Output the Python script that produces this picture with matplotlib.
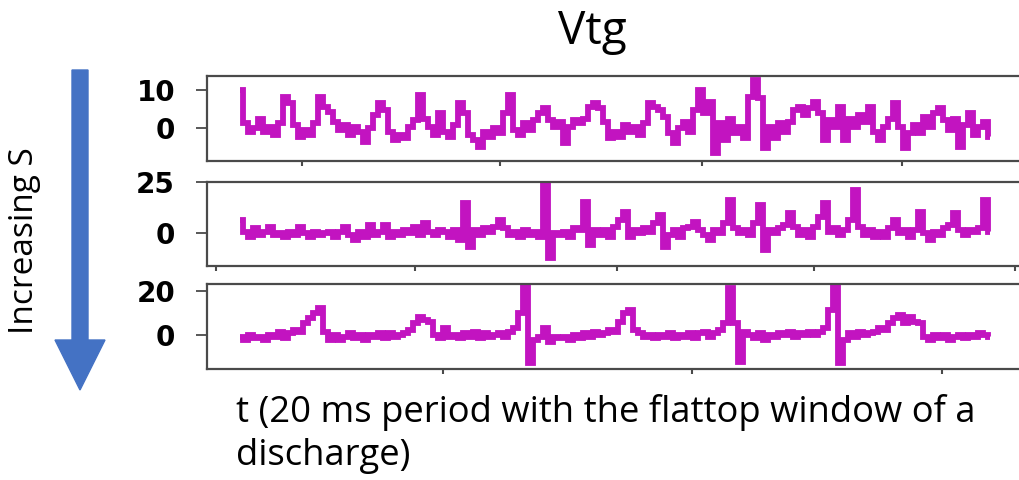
import numpy as np
import matplotlib
matplotlib.use("Agg")
import matplotlib.pyplot as plt
from matplotlib.patches import FancyArrow

# Vtg traces (arbitrary units), three discharges
vtg_low = [10, 1.2, -1, 0, 2.5, -1, 0.3, -1.8, 1.2, 8.2, 6.5, 0.8, -2.3, -0.5, -1.8, 1.2, 8.2, 5.6, 4.3, 1.7,
           -0.5, 0.8, -1.8, 0.3, -1, -3.6, 0, 3.4, 6.5, 4.7, -1, -3.2, -1.8, -2.7, 0.3, 2.1, 8.7, 2.5, 0.3, -1.8,
           3.9, -1, -2.3, 0.8, 6.5, 3.9, -1.8, -3.2, -4.9, -1, -2.3, 0, -1.4, 3.9, 8.7, -0.5, -1.8, 1.2, -0.5, 2.1,
           3.9, 5.2, 2.1, 0.3, 1.7,
           -4, 0.3, 2.1, 1.2, 2.5, 5.6, 6.5, 5.2, 1.7, -2.7, -1, -2.3, 0.8, -1, 0.3, -1.8, 1.2, 6.5, 5.6, 4.7,
           3, -1.4, -4, 0, 1.7, -1, 4.7, 10, 3.9, 6.9, -6.7, 1.2, -3.2, 2.5, -1.4, 0.3, -2.7, 8.2, 12.6, 7.8,
           -5.4, 0.3, -2.7, 1.2, -1, 1.7, 4.7, 5.6, 3.4, 5.2, 6.9, 3.9, -3.2, 2.1, 0.3, 5.6, -3.2, 2.5, 0.3, 3.4,
           1.7, 5.6, -1, -3.2, 0.3, 2.5, 6.5, 0.3, -5.4, -1.4, 0.8, -1.4, 3, 0.3, 3.9, 5.2, 2.1, -0.5, 2.5, -4.9,
           0.8, 3.9, -1.8, 0.3, 1.7, -2.3]

vtg_mid = [6.4, 0.7, -1.8, 2.3, -1, 0.7, 3.1, -1, -0.2, -1.8, 0.7, -1, 3.1, -0.2, -1.8, 0.7, -1, -0.2, 0.7, -1.8,
           0.7, 3.1, -1, -3.4, 0.7, -1.8, 3.9, -1, 0.7, 3.9, -1.8, 0.7, -1, 1.5, -0.2, 3.1, -1, 4.7, 0.7, -1,
           1.5, 0.7, -1.8, 1.5, -3.4, 14.5, -6.7, 1.5, -1, 2.3, 0.7, 3.1, 6.4, 2.3, -1, 0.7, -1.8, 1.5, -1, 0.7,
           -1.8, 24.3, -12.4, -0.2, -1,
           0.7, -1.8, 2.3, 1.5, 15.4, -5.9, 1.5, -1, 1.5, -1.8, 3.1, 6.4, 10.5, -1.8, 1.5, -0.2, 2.3, 0.7, 4.7, 8.8,
           -6.7, -1, 1.5, -1.8, 2.3, 3.1, 5.6, 1.5, -1, -3.4, 1.5, -0.2, 4.7, 16.2, 2.3, -0.2, 1.5, -1, 4.7, 13.7,
           -8.3, 1.5, -0.2, 2.3, 3.9, 9.6, 3.1, -1, 1.5, -1.8, 3.1, 8, 14.5, 0.7, 2.3, -1, 1.5, 6.4, 21.1, 3.1,
           -1, 1.5, -1.8, 0.7, -1.8, 2.3, 6.4, -0.2, 1.5, -1.8, 1.5, 10.5, -0.2, -3.4, 0.7, -1, 2.3, 3.9, 9.6, 1.5,
           -1, 1.5, 0.7, 2.3, 16.2, 0.7]

vtg_high = [-0.8, -2.3, 0, -1.5, -0.8, -2.3, 0, -0.8, 1.5, -1.5, 0.8, 2.3, 1.5, 5.3, 7.6, 9.8, 12.1, 1.5, -2.3, 0,
            -2.3, -0.8, 0.8, -1.5, 0, -2.3, 0, -0.8, 0.8, -1.5, 0.8, -0.8, 0, 0.8, 2.3, 5.3, 8.3, 6.8, 6.1, 0,
            -1.5, 3, -0.8, 0, -1.5, 0.8, -0.8, 1.5, -1.5, 0.8, -0.8, 0, 0.8, -0.8, 1.5, 3, 9.8, 22, -12.9, -2.3,
            -0.8, 3, -3, -0.8, -1.5,
            -0.8, -2.3, 0, -1.5, 0.8, -0.8, 1.5, 0, 0.8, 2.3, 1.5, 6.1, 9.8, 11.4, 2.3, 0.8, -0.8, 0, -1.5, 0,
            -0.8, 0.8, -1.5, 0, -0.8, 0.8, -1.5, 0.8, 1.5, -0.8, 0.8, 2.3, 5.3, 21.2, 5.3, -12.1, 1.5, 0, -1.5, 0.8,
            -2.3, 0, -0.8, 0.8, 0, 1.5, -0.8, 0.8, 0, 1.5, 0, 1.5, 3, 11.4, 22.7, -12.9, -2.3, 0.8, -0.8, 1.5,
            0, 0.8, 1.5, 3, 2.3, 5.3, 7.6, 9.1, 5.3, 8.3, 6.1, 5.3, -0.8, -2.3, 0, -1.5, 0, -2.3, -0.8, 0,
            -1.5, 0, -0.8, 0.8, 0, -0.8]

traces = [vtg_low, vtg_mid, vtg_high]
y_ticks = [[0, 10], [0, 25], [0, 20]]
y_limits = [(-8.7, 13.7), (-16.2, 25.0), (-15.5, 23.2)]
x_ticks = [[1.65, 6.93, 12.32, 17.65],
           [-0.64, 4.67, 10.05, 15.31, 20.67],
           [5.41, 12.05, 18.72]]

# panel boxes in figure fraction (left, bottom, width, height)
W, H = 1019, 480
boxes = [(207 / W, 1 - 161 / H, 818 / W, 85 / H),
         (207 / W, 1 - 266 / H, 818 / W, 84 / H),
         (207 / W, 1 - 369 / H, 818 / W, 85 / H)]

line_color = '#c214c0'
spine_color = '#4a4a4a'

fig = plt.figure(figsize=(W / 100, H / 100), dpi=100)

for i in range(3):
    ax = fig.add_axes(boxes[i])
    vals = np.array(traces[i])
    t = np.linspace(0, 20, len(vals))  # 20 ms flattop window
    ax.plot(t, vals, color=line_color, lw=4.2, drawstyle='steps-mid',
            solid_joinstyle='miter', solid_capstyle='butt')
    ax.set_xlim(-0.88, 20.93)
    ax.set_ylim(*y_limits[i])
    ax.set_yticks(y_ticks[i])
    ax.set_yticklabels([str(v) for v in y_ticks[i]], fontsize=20, fontweight='bold',
                       family='DejaVu Sans')
    ax.set_xticks(x_ticks[i])
    ax.set_xticklabels([])
    ax.tick_params(axis='y', length=8, width=1.3, pad=15, color=spine_color)
    ax.tick_params(axis='x', length=3.5, width=1.5, color=spine_color)
    for s in ax.spines.values():
        s.set_color(spine_color)
        s.set_linewidth(1.6)

# title and captions
fig.text(592 / W, 1 - 44 / H, 'Vtg', fontsize=33, family='Open Sans',
         ha='center', va='baseline')
fig.text(25 / W, 1 - 241 / H, 'Increasing S', fontsize=24, family='Open Sans',
         rotation=90, ha='center', va='center')
fig.text(236 / W, 1 - 422 / H, 't (20 ms period with the flattop window of a',
         fontsize=26.2, family='Open Sans', ha='left', va='baseline')
fig.text(236 / W, 1 - 465 / H, 'discharge)',
         fontsize=26.2, family='Open Sans', ha='left', va='baseline')

# blue arrow pointing down
arrow = FancyArrow(80 / W, 1 - 70 / H, 0, -320 / H, width=16 / W,
                   head_width=50 / W, head_length=50 / H,
                   length_includes_head=True, color='#4472c4',
                   transform=fig.transFigure)
fig.patches.append(arrow)

fig.savefig('out.png', dpi=100, facecolor='white')
